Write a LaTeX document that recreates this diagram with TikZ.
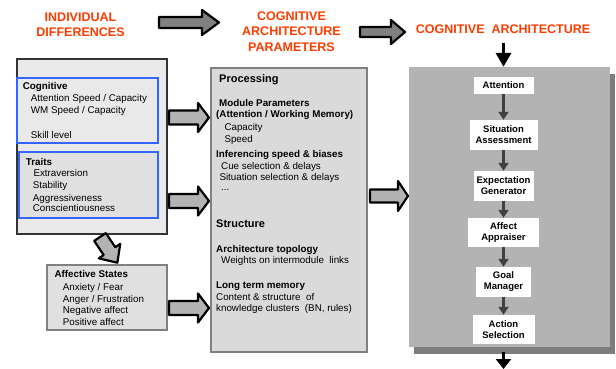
\documentclass[tikz,border=0pt]{standalone}
\usepackage{fontspec}
\setmainfont{Liberation Sans}
\usetikzlibrary{arrows.meta,shadows}
\def\blockarrow[#1](#2)(#3:#4:#5:#6:#7){\draw[#1, shift={(#2)}, rotate=#3] (0,-#5) -- ({#4-#7},-#5) -- ({#4-#7},-#6) -- (#4,0) -- ({#4-#7},#6) -- ({#4-#7},#5) -- (0,#5) -- cycle;}

\definecolor{titlered}{RGB}{255,60,0}
\definecolor{boxblue}{RGB}{51,102,255}
\definecolor{darkline}{RGB}{51,51,51}
\definecolor{midgray}{RGB}{128,128,128}
\definecolor{archgray}{RGB}{179,179,179}
\definecolor{shadowgray}{RGB}{125,125,125}
\definecolor{lightfill}{RGB}{233,233,233}
\definecolor{traitfill}{RGB}{224,224,224}
\definecolor{procfill}{RGB}{218,218,218}
\definecolor{flowgray}{RGB}{64,64,64}

\tikzset{
  ttl/.style={font=\bfseries\fontsize{12.5}{15.5}\selectfont, text=titlered, align=center, inner sep=0},
  item/.style={anchor=base west, inner sep=0, font=\fontsize{9.8}{11}\selectfont},
  itemhd/.style={item, font=\bfseries\fontsize{9.8}{11}\selectfont},
  sechd/.style={item, font=\bfseries\fontsize{11}{13}\selectfont},
  stage/.style={fill=white, inner sep=0, align=center, font=\bfseries\fontsize{9.5}{11}\selectfont},
  flow/.style={draw=flowgray, line width=3pt, -{Triangle[width=10pt,length=8pt]}},
  bigarrow/.style={draw=black, line width=2.2pt, line join=round, fill=midgray},
  sidearrow/.style={bigarrow, fill=archgray},
}

\begin{document}
\begin{tikzpicture}[x=1pt,y=-1pt]
		\useasboundingbox (0,0) rectangle (616,369);
		%%%%% titles %%%%%
		\node[ttl, anchor=north] (indtitle) at (80.5,12.5) {INDIVIDUAL\\DIFFERENCES};
		\node[ttl, anchor=north] (partitle) at (291.5,11.5) {COGNITIVE\\ARCHITECTURE\\PARAMETERS};
		\node[ttl, anchor=base] (archtitle) at (503,33.5) {COGNITIVE\ \ ARCHITECTURE};
		
		\blockarrow[bigarrow](159,22.5)(0:60:5.5:12.5:17);
		\blockarrow[bigarrow](360,32)(0:45:5:12:14);
		
		%%%%% individual differences %%%%%
		\node[draw=darkline, line width=2pt, fill=lightfill, minimum width=150pt, minimum height=175pt] (indiv) at (92,146.5) {};
		\node[draw=boxblue, line width=2pt, fill=lightfill, minimum width=141pt, minimum height=65pt] (cog) at (87.5,110.5) {};
		\node[draw=boxblue, line width=2pt, fill=traitfill, minimum width=139pt, minimum height=66pt] (traits) at (88.5,185) {};
		
		\node[itemhd] (cogh) at (22.7,89.5) {Cognitive};
		\node[item] (cog1) at (30.7,101.8) {Attention Speed / Capacity};
		\node[item] (cog2) at (30.7,113.5) {WM Speed / Capacity};
		\node[item] (cog3) at (30.7,138.5) {Skill level};
		
		\node[itemhd] (traith) at (25.7,165.2) {Traits};
		\node[item] (trait1) at (33.3,176.2) {Extraversion};
		\node[item] (trait2) at (32.7,188.5) {Stability};
		\node[item] (trait3) at (32.7,201.2) {Aggressiveness};
		\node[item] (trait4) at (32.7,211.8) {Conscientiousness};
		
		\node[draw=midgray, line width=2pt, fill=traitfill, minimum width=120pt, minimum height=65pt] (affect) at (107,297.5) {};
		\node[itemhd] (affh) at (54.3,277.8) {Affective States};
		\node[item] (aff1) at (62.7,290.2) {Anxiety / Fear};
		\node[item] (aff2) at (62.7,302.8) {Anger / Frustration};
		\node[item] (aff3) at (62.7,313.5) {Negative affect};
		\node[item] (aff4) at (62.7,325.2) {Positive affect};
		
		\blockarrow[sidearrow](100,237)(-56:31:7:13:14);
		
		%%%%% parameters %%%%%
		\node[draw=midgray, line width=2.5pt, fill=procfill, minimum width=156pt, minimum height=284pt] (proc) at (289,210) {};
		\node[sechd] (proch) at (219,82.3) {Processing};
		\node[itemhd] (mod1) at (219,106.8) {Module Parameters};
		\node[itemhd] (mod2) at (216,117.5) {(Attention / Working Memory)};
		\node[item] (mod3) at (224.3,130.2) {Capacity};
		\node[item] (mod4) at (224.3,142.8) {Speed};
		\node[itemhd] (inf1) at (216,157.8) {Inferencing speed \& biases};
		\node[item] (inf2) at (221,169.5) {Cue selection \& delays};
		\node[item] (inf3) at (219.3,180.2) {Situation selection \& delays};
		\node[item] (inf4) at (221,190) {...};
		\node[sechd] (strh) at (216,227.3) {Structure};
		\node[itemhd] (top1) at (216,252.5) {Architecture topology};
		\node[item] (top2) at (221,263.5) {Weights on intermodule\ \ links};
		\node[itemhd] (ltm1) at (216,288.5) {Long term memory};
		\node[item] (ltm2) at (216,300.2) {Content \& structure\ \ of};
		\node[item] (ltm3) at (216,311.8) {knowledge clusters\ \ (BN, rules)};
		
		\blockarrow[sidearrow](169,117.5)(0:40:7:14.5:11);
		\blockarrow[sidearrow](169,201)(0:40:7:14.5:11);
		\blockarrow[sidearrow](169,308)(0:40:7:14.5:11);
		\blockarrow[sidearrow](370,196)(0:38:6.5:15:10);
		
		%%%%% architecture %%%%%
		\node[fill=archgray, minimum width=201pt, minimum height=280pt, general shadow={fill=shadowgray, shadow xshift=5pt, shadow yshift=-7pt}] (arch) at (509.5,207) {};
		\node[stage, minimum width=60pt, minimum height=17pt] (att) at (503.5,85.5) {Attention};
		\node[stage, minimum width=68pt, minimum height=30pt] (sit) at (503.5,135) {Situation\\Assessment};
		\node[stage, minimum width=60pt, minimum height=30pt] (exp) at (503.5,186) {Expectation\\Generator};
		\node[stage, minimum width=71pt, minimum height=29pt] (app) at (503.5,232.5) {Affect\\Appraiser};
		\node[stage, minimum width=55pt, minimum height=30pt] (goal) at (503.5,282) {Goal\\Manager};
		\node[stage, minimum width=62pt, minimum height=29pt] (act) at (503.5,329.5) {Action\\Selection};
		
		\draw[flow] (att) -- (sit);
		\draw[flow] (sit) -- (exp);
		\draw[flow] (exp) -- (app);
		\draw[flow] (app) -- (goal);
		\draw[flow] (goal) -- (act);
		
		\coordinate (archin) at (503.5,43);
		\coordinate (archbot) at (503.5,352);
		\coordinate (archout) at (503.5,369);
		\draw[line width=3.5pt, -{Triangle[width=15pt,length=14pt]}] (archin) -- (archin |- arch.north);
		\draw[line width=3.5pt, -{Triangle[width=15pt,length=10pt]}] (archbot) -- (archout);
	\end{tikzpicture}
\end{document}
